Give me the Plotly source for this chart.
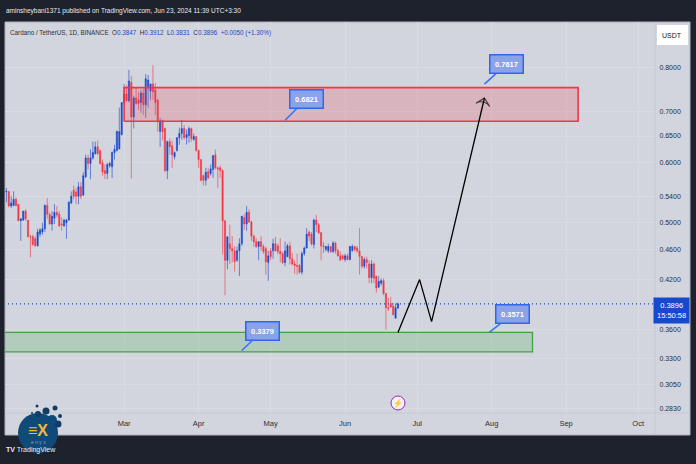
import math
import pandas as pd
import plotly.graph_objects as go

open_prices = [.548,.549,.525,.526,.536,.528,.502,.503,.517,.503,.478,.478,.475,.465,.482,.485,.490,.526,.512,.497,.506,.515,.512,.497,.494,.499,.503,.530,.551,.548,.541,.557,.543,.574,.608,.598,.608,.616,.629,.622,.599,.585,.580,.594,.592,.618,.622,.625,.653,.720,.739,.724,.766,.689,.730,.726,.720,.741,.715,.753,.746,.762,.748,.726,.659,.681,.665,.585,.639,.631,.610,.622,.647,.655,.665,.647,.651,.665,.643,.649,.622,.605,.576,.568,.583,.580,.587,.614,.590,.590,.585,.502,.445,.468,.461,.458,.445,.458,.468,.507,.497,.515,.500,.479,.471,.464,.471,.464,.461,.442,.458,.458,.468,.465,.457,.454,.442,.450,.465,.447,.440,.438,.438,.429,.454,.462,.485,.482,.467,.503,.496,.484,.465,.460,.458,.464,.457,.469,.458,.451,.451,.446,.451,.446,.458,.464,.462,.458,.450,.437,.446,.440,.422,.440,.424,.410,.415,.418,.402,.385,.390,.387,.373,.3847]
high_prices = [.555,.549,.541,.549,.539,.528,.505,.517,.520,.503,.481,.481,.479,.490,.491,.499,.528,.538,.515,.517,.528,.525,.517,.507,.505,.505,.533,.549,.559,.555,.565,.565,.582,.614,.614,.624,.639,.639,.641,.624,.605,.596,.599,.601,.620,.633,.661,.709,.720,.762,.759,.795,.781,.735,.753,.744,.748,.750,.785,.783,.759,.807,.764,.726,.687,.683,.667,.641,.645,.641,.620,.647,.667,.683,.672,.663,.669,.667,.655,.649,.624,.605,.578,.590,.590,.596,.614,.624,.592,.594,.587,.502,.478,.496,.479,.465,.464,.476,.509,.512,.525,.520,.502,.481,.476,.471,.479,.467,.464,.458,.462,.475,.478,.468,.476,.457,.471,.468,.471,.455,.445,.454,.440,.457,.464,.491,.487,.485,.505,.511,.499,.485,.471,.465,.468,.465,.472,.471,.461,.457,.453,.454,.454,.465,.467,.465,.465,.491,.451,.449,.450,.445,.445,.442,.424,.424,.421,.421,.403,.397,.398,.390,.390,.3912]
low_prices = [.531,.523,.522,.525,.525,.502,.472,.502,.502,.478,.449,.465,.464,.464,.478,.481,.485,.505,.496,.487,.497,.507,.493,.487,.493,.475,.502,.528,.536,.528,.528,.536,.541,.572,.587,.570,.605,.614,.614,.596,.576,.570,.570,.590,.572,.605,.620,.624,.651,.715,.722,.720,.571,.665,.715,.704,.698,.693,.687,.709,.726,.726,.693,.659,.629,.641,.582,.570,.614,.590,.605,.620,.633,.643,.643,.633,.637,.639,.641,.620,.590,.566,.559,.559,.570,.576,.572,.587,.555,.572,.453,.400,.433,.440,.442,.430,.443,.424,.465,.488,.487,.499,.472,.464,.462,.445,.458,.454,.426,.418,.445,.447,.457,.453,.442,.440,.437,.449,.439,.438,.427,.426,.427,.426,.451,.461,.472,.465,.461,.485,.482,.445,.455,.457,.455,.455,.455,.454,.450,.445,.445,.443,.445,.445,.457,.457,.455,.426,.434,.434,.434,.415,.415,.415,.403,.409,.412,.400,.360,.381,.385,.376,.372,.3831]
close_prices = [.549,.525,.530,.536,.526,.502,.505,.517,.505,.478,.478,.467,.465,.485,.488,.490,.526,.512,.497,.509,.515,.511,.494,.496,.503,.503,.531,.541,.541,.541,.557,.541,.576,.608,.598,.608,.618,.629,.616,.598,.583,.580,.596,.598,.618,.624,.659,.659,.720,.739,.724,.769,.689,.730,.718,.718,.741,.715,.774,.771,.762,.744,.720,.679,.681,.659,.585,.639,.629,.614,.618,.647,.655,.665,.647,.653,.665,.645,.649,.622,.605,.568,.568,.582,.572,.588,.612,.590,.588,.585,.502,.445,.478,.461,.458,.443,.458,.468,.509,.497,.515,.500,.479,.471,.464,.471,.464,.457,.443,.451,.450,.468,.458,.457,.454,.442,.458,.465,.447,.440,.438,.437,.429,.454,.462,.482,.479,.468,.503,.496,.484,.465,.464,.464,.464,.457,.469,.458,.451,.445,.447,.451,.446,.464,.464,.460,.458,.450,.437,.446,.442,.422,.440,.421,.409,.417,.418,.402,.385,.384,.386,.377,.385,.3896]
dates = pd.date_range(end="2024-06-23", periods=len(close_prices))

price_ticks = [0.8, 0.7, 0.65, 0.6, 0.54, 0.5, 0.46, 0.42, 0.36, 0.33, 0.305, 0.283]
month_ticks = ["2024-03-01", "2024-04-01", "2024-05-01", "2024-06-01", "2024-07-01", "2024-08-01", "2024-09-01", "2024-10-01"]
month_labels = ["Mar", "Apr", "May", "Jun", "Jul", "Aug", "Sep", "Oct"]

red_zone_dates = ["2024-03-01", "2024-09-06"]
red_zone_prices = [0.680, 0.7535]
green_zone_dates = ["2024-01-01", "2024-08-18"]
green_zone_prices = [0.3365, 0.3571]
path_dates = ["2024-06-23", "2024-07-02", "2024-07-07", "2024-07-29"]
path_prices = [0.3571, 0.4195, 0.369, 0.730]
last_price = 0.3896
callout_labels = ["0.6821", "0.7617", "0.3379", "0.3571"]
callout_dates = ["2024-05-07", "2024-07-29", "2024-04-19", "2024-07-31"]
callout_prices = [0.6821, 0.7617, 0.3379, 0.3571]
callout_dx = [21, 22, 21, 23]
callout_dy = [-21, -20, -20, -18]

FONT = "Liberation Sans, sans-serif"
BLUE = "#1848cc"
RED = "#f23645"
W, H = 696, 464
L, R, T, B = 5, 655, 22, 413
px = lambda x: (x - L) / (R - L)
py = lambda y: 1 - (y - T) / (B - T)

fig = go.Figure()
fig.add_trace(go.Candlestick(
    x=dates, open=open_prices, high=high_prices, low=low_prices, close=close_prices,
    increasing=dict(line=dict(color="rgba(24,72,204,0.6)", width=1), fillcolor=BLUE),
    decreasing=dict(line=dict(color="rgba(242,54,69,0.6)", width=1), fillcolor=RED),
    whiskerwidth=0, showlegend=False, hoverinfo="skip",
))

def zone(ds, ps, line, fill, width):
    fig.add_trace(go.Scatter(
        x=[ds[0], ds[1], ds[1], ds[0], ds[0]], y=[ps[0], ps[0], ps[1], ps[1], ps[0]],
        mode="lines", fill="toself", fillcolor=fill, line=dict(color=line, width=width),
        showlegend=False, hoverinfo="skip"))

zone(red_zone_dates, red_zone_prices, RED, "rgba(242,54,69,0.2)", 1.6)
zone(green_zone_dates, green_zone_prices, "#43a047", "rgba(76,175,80,0.24)", 1.3)

fig.add_trace(go.Scatter(
    x=["2024-01-01", "2024-10-31"], y=[last_price, last_price], mode="lines",
    line=dict(color=BLUE, width=1.2, dash="1px 3px"), showlegend=False, hoverinfo="skip"))

fig.add_trace(go.Scatter(
    x=path_dates, y=path_prices, mode="lines+markers",
    line=dict(color="#000000", width=1.3),
    marker=dict(symbol=["circle"] * 3 + ["arrow-wide-open"], size=[0, 0, 0, 10],
                angleref="previous", color="#000000", line=dict(color="#000000", width=1.2)),
    showlegend=False, hoverinfo="skip"))

ann = []
for t, d, p, dx, dy in zip(callout_labels, callout_dates, callout_prices, callout_dx, callout_dy):
    ann.append(dict(x=d, y=math.log10(p), xref="x", yref="y", text=f"<b>{t}</b>",
                    showarrow=True, ax=dx, ay=dy, arrowhead=0, arrowwidth=1.6, arrowcolor="#3f72f0",
                    standoff=0, startstandoff=0,
                    font=dict(family=FONT, size=7.5, color="#ffffff"),
                    bgcolor="#8aa2e6", bordercolor="#2f66f0", borderwidth=1.5, borderpad=3, width=26, height=11))

def text(x, y, s, size=7, color="#131722", xanchor="left", **kw):
    ann.append(dict(x=px(x), y=py(y), xref="paper", yref="paper", text=s, showarrow=False,
                    xanchor=xanchor, yanchor="middle", font=dict(family=FONT, size=size, color=color), **kw))

text(4, 11, "aminsheybani1371 published on TradingView.com, Jun 23, 2024 11:39 UTC+3:30", 6.5, "#e8eaf0")
v = lambda s: f"<span style='color:{BLUE}'>{s}</span>"
text(8, 33, "Cardano / TetherUS, 1D, BINANCE  O" + v("0.3847") + "  H" + v("0.3912") + "  L" + v("0.3831") +
     "  C" + v("0.3896") + "  " + v("+0.0050 (+1.30%)"), 6.3, "#2a2e39")
text(672, 35, "USDT", 7, "#131722", "center")
text(671.5, 310, "0.3896<br>15:50:58", 7.5, "#ffffff", "center", bgcolor=BLUE, borderpad=3)
text(398, 403, "⚡", 8, "#9c27b0", "center")
text(4, 450, "<b>TV</b> TradingView", 7, "#e8eaf0")
text(38, 430, "<b>≡X</b>", 16, "#f5b82e", "center")
text(38, 442, "e n y x", 5, "#7fa6c8", "center")

def circle(x, y, r, color, line=None):
    return dict(type="circle", xref="paper", yref="paper", x0=px(x - r), x1=px(x + r),
                y0=py(y + r), y1=py(y - r), fillcolor=color,
                line=dict(color=line or color, width=1 if line else 0), layer="above")

shapes = [
    dict(type="rect", xref="paper", yref="paper", x0=px(5), x1=px(690), y0=py(435), y1=py(22),
         fillcolor="#d2d5dd", line=dict(color="#aeb2bb", width=1), layer="below"),
    dict(type="line", xref="paper", yref="paper", x0=px(655), x1=px(655), y0=py(435), y1=py(22),
         line=dict(color="#c6c9d2", width=1), layer="below"),
    dict(type="line", xref="paper", yref="paper", x0=px(5), x1=px(690), y0=py(413), y1=py(413),
         line=dict(color="#c6c9d2", width=1), layer="below"),
    dict(type="rect", xref="paper", yref="paper", x0=px(657), x1=px(688), y0=py(45), y1=py(25),
         fillcolor="#ffffff", line=dict(width=0), layer="above"),
    circle(398, 403, 7, "#f3f0f5", "#9c27b0"),
    circle(38, 433, 20, "#104a78"), circle(37, 406, 1.5, "#123c63"), circle(46, 411, 3.5, "#123c63"),
    circle(55, 408, 2.5, "#123c63"), circle(60, 416, 2, "#123c63"), circle(58, 424, 3.5, "#123c63"),
    circle(32, 413, 1, "#123c63"), circle(38, 414, 3, "#123c63"), circle(52, 420, 5, "#104a78"),
]

fig.update_layout(
    width=W, height=H, autosize=False,
    paper_bgcolor="#1e222d", plot_bgcolor="rgba(0,0,0,0)",
    margin=dict(l=L, r=W - R, t=T, b=H - B),
    showlegend=False, shapes=shapes, annotations=ann,
    xaxis=dict(type="date", range=["2024-01-11 10:00", "2024-10-08"], rangeslider=dict(visible=False),
               tickmode="array", tickvals=month_ticks, ticktext=month_labels,
               ticks="outside", ticklen=3, tickcolor="rgba(0,0,0,0)",
               tickfont=dict(family=FONT, size=7.5, color="#2a2e39"),
               showgrid=True, gridcolor="#d9dbe2", gridwidth=1, zeroline=False, showline=False),
    yaxis=dict(type="log", side="right", range=[-0.5540, -0.0360],
               tickmode="array", tickvals=price_ticks, ticktext=[f"{p:.4f}" for p in price_ticks],
               ticks="outside", ticklen=2, tickcolor="rgba(0,0,0,0)",
               tickfont=dict(family=FONT, size=7, color="#2a2e39"),
               showgrid=True, gridcolor="#d9dbe2", gridwidth=1, zeroline=False, showline=False),
)
fig.write_html("out.html", config=dict(displayModeBar=False),
               post_script="document.body.style.margin='0';document.documentElement.style.background='#1e222d';")
